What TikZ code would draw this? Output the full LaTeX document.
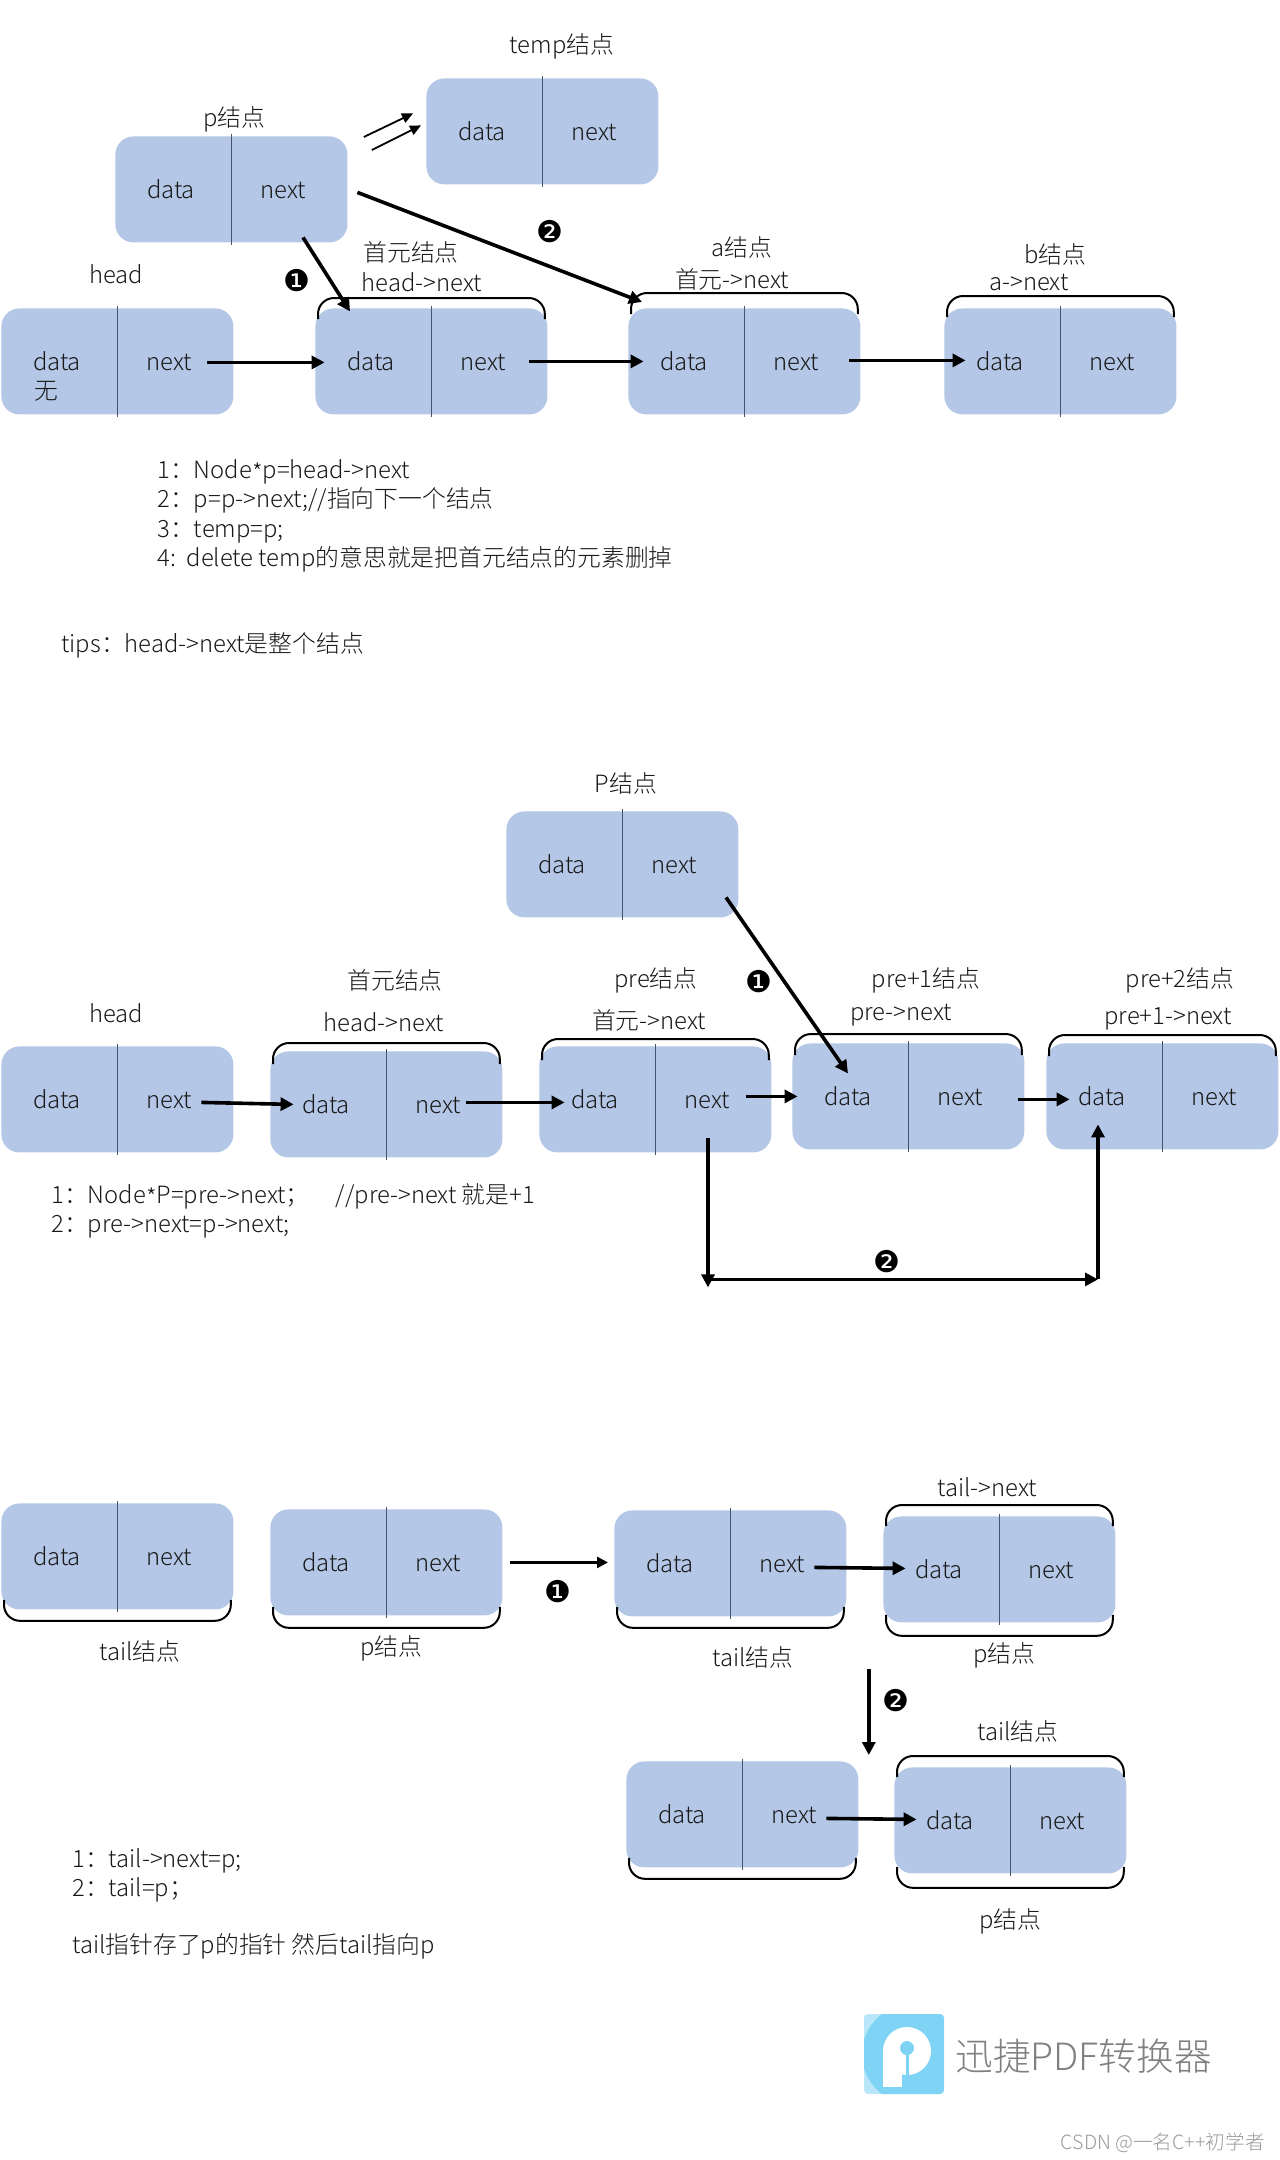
\documentclass[tikz,border=0pt]{standalone}
\usepackage{fontspec}
\usetikzlibrary{arrows.meta}
\setmainfont{Noto Sans CJK SC}[UprightFont=* Light]
\newfontfamily\circfont{DejaVu Sans}

\definecolor{boxblue}{HTML}{B4C7E7}
\definecolor{rulegray}{HTML}{44546A}
\definecolor{logolight}{HTML}{B9E6F8}
\definecolor{logodark}{HTML}{7FD3F5}

\newcommand{\lowstar}{\raisebox{-1.6pt}{*}}
% one list cell: name, left, top
\newcommand{\listbox}[3]{
	\node[cellbox] (#1) at (#2,#3) {};
	\draw[cellrule] ([yshift=1pt]#1.north) -- ([yshift=-1pt]#1.south);
	\node[celltext, minimum width=46pt] (#1-d) at ([shift={(56,55)}]#1.north west) {data};
	\node[celltext, minimum width=38pt] (#1-n) at ([shift={(168,55)}]#1.north west) {next};
}
% bracket over a box: name, offset of its line from the box top
\newcommand{\capover}[2]{
	\draw[capline] ([shift={(3,#2+21)}]#1.north west) |- ([shift={(-3,#2)}]#1.north east) -- ([shift={(-3,#2+21)}]#1.north east);
}
% bracket under a box: name, offset of its line from the box bottom
\newcommand{\capunder}[2]{
	\draw[capline] ([shift={(3,#2-21)}]#1.south west) |- ([shift={(-3,#2)}]#1.south east) -- ([shift={(-3,#2-21)}]#1.south east);
}

\begin{document}
\begin{tikzpicture}[x=0.5pt, y=-0.5pt,
	every node/.style={font=\fontsize{11.9}{14}\selectfont, text=black!90, yshift=-0.2pt},
	cellbox/.style={anchor=north west, fill=boxblue, rounded corners=9pt, minimum width=116pt, minimum height=53pt, inner sep=0pt, yshift=0.2pt},
	cellrule/.style={draw=rulegray, line width=0.6pt},
	celltext/.style={inner sep=0pt, text height=7pt, text depth=0pt},
	capline/.style={draw=black, line width=1pt, rounded corners=8pt},
	arr/.style={draw=black, line width=1.8pt, -{Triangle[length=6.5pt, width=6.5pt]}},
	midarr/.style={draw=black, line width=1.3pt, -{Triangle[length=5.5pt, width=5.5pt]}},
	thinarr/.style={draw=black, line width=0.9pt, -{Triangle[length=5.5pt, width=5pt]}},
	badge/.style={font=\circfont\fontsize{15}{16}\selectfont, text=black, inner sep=0pt},
	para/.style={anchor=west, align=left, inner sep=0pt}]
	\useasboundingbox (0,0) rectangle (1280,2160);

	% first list
	\begin{scope}
		\listbox{p}{115}{136}
		\listbox{temp}{426}{78}
		\listbox{head}{1}{308}
		\listbox{first}{315}{308}
		\listbox{a}{628}{308}
		\listbox{b}{944}{308}
		\capover{first}{-10}
		\capover{a}{-15}
		\capover{b}{-12}
		\node (wu) at (46,391) {无};
		\node (lbltemp) at (562,46) {temp结点};
		\node (lblp) at (234,119) {p结点};
		\node (lblhead) at (116,274) {head};
		\node (lblfirst) at (411,252) {首元结点};
		\node (lblheadnext) at (422,282) {head->next};
		\node (lbla) at (742,247) {a结点};
		\node (lblfirstnext) at (732,279) {首元->next};
		\node (lblb) at (1055,254) {b结点};
		\node (lblanext) at (1029,282) {a->next};
		\node[badge] (one) at (297,280) {❶};
		\node[badge] (two) at (550,231) {❷};
		\draw[thinarr] ([shift={(16,1)}]p.north east) -- ([shift={(-13,-18)}]temp.west);
		\draw[thinarr] ([shift={(24,14)}]p.north east) -- ([shift={(-5,-6)}]temp.west);
		\draw[arr] ([shift={(20,46)}]p-n.center) -- ([shift={(-21,-52)}]first-d.center);
		\draw[arr] ([shift={(36,1)}]p-n.east) -- ([shift={(14,-6)}]a.north west);
		\draw[arr] ([shift={(0,-1)}]head-n.east) -- ([shift={(0,-1)}]first-d.west);
		\draw[arr] ([shift={(8,-2)}]first-n.east) -- ([shift={(6,-2)}]a-d.west);
		\draw[arr] ([shift={(15,-3)}]a-n.east) -- ([shift={(12,-3)}]b-d.west);
		\node[para] (steps) at (157,515.5) {1：Node\lowstar p=head->next\\[0.6pt]2：p=p->next;//指向下一个结点\\[0.6pt]3：temp=p;\\[0.6pt]4:\ \ delete temp的意思就是把首元结点的元素删掉};
		\node[para] (tips) at (61,645) {tips：head->next是整个结点};
	\end{scope}

	% second list
	\begin{scope}
		\listbox{pp}{506}{811}
		\listbox{headb}{1}{1046}
		\listbox{firstb}{270}{1051}
		\listbox{pre}{539}{1046}
		\listbox{preone}{792}{1043}
		\listbox{pretwo}{1046}{1043}
		\capover{firstb}{-8}
		\capover{pre}{-7}
		\capover{preone}{-9}
		\capover{pretwo}{-8}
		\node (lblpp) at (626,783) {P结点};
		\node (lblheadb) at (116,1013) {head};
		\node (lblfirstb) at (395,980) {首元结点};
		\node (lblheadbnext) at (384,1022) {head->next};
		\node (lblpre) at (656,980) {pre结点};
		\node (lblfirstbnext) at (649,1020) {首元->next};
		\node (lblpreone) at (926,980) {pre+1结点};
		\node (lblprenext) at (901,1015) {pre->next};
		\node (lblpretwo) at (1180,980) {pre+2结点};
		\node (lblpreonenext) at (1168,1018) {pre+1->next};
		\node[badge] (oneb) at (759,981) {❶};
		\node[badge] (twob) at (887,1261) {❷};
		\coordinate (dropend) at (708,1287);
		\coordinate (turnl) at (708,1279);
		\coordinate (turnr) at (1098,1279);
		\draw[arr] ([shift={(52,31)}]pp-n.center) -- ([shift={(0,-25)}]preone-d.center);
		\draw[arr] ([shift={(-6,1)}]headb-n.east) -- ([shift={(14,-2)}]firstb-d.west);
		\draw[arr] ([shift={(-10,-4)}]firstb-n.east) -- ([shift={(16,1)}]pre-d.west);
		\draw[arr] ([shift={(1,-5)}]pre-n.east) -- ([shift={(-4,-2)}]preone-d.west);
		\draw[arr] ([shift={(20,1)}]preone-n.east) -- ([shift={(14,1)}]pretwo-d.west);
		\draw[arr] ([shift={(1,37)}]pre-n.center) -- (dropend);
		\draw[arr] (turnl) -- (turnr);
		\draw[arr] (turnr) -- ([shift={(-4,26)}]pretwo-d.center);
		\node[para] (stepsb) at (51,1210.5) {1：Node\lowstar P=pre->next；\ \ \ \ \ //pre->next 就是+1\\[0.6pt]2：pre->next=p->next;};
	\end{scope}

	% third list
	\begin{scope}
		\listbox{taila}{1}{1503}
		\listbox{pa}{270}{1509}
		\listbox{tailb}{614}{1510}
		\listbox{pb}{883}{1516}
		\listbox{tailc}{626}{1761}
		\listbox{pc}{894}{1767}
		\capunder{taila}{11}
		\capunder{pa}{12}
		\capunder{tailb}{11}
		\capunder{pb}{13}
		\capunder{tailc}{11}
		\capunder{pc}{14}
		\capover{pb}{-11}
		\capover{pc}{-11}
		\node (lbltaila) at (140,1651) {tail结点};
		\node (lblpa) at (391,1648) {p结点};
		\node (lbltailb) at (753,1657) {tail结点};
		\node (lblpb) at (1004,1655) {p结点};
		\node (lbltailnext) at (987,1487) {tail->next};
		\node (lbltailc) at (1018,1731) {tail结点};
		\node (lblpc) at (1010,1921) {p结点};
		\node[badge] (onec) at (558,1591) {❶};
		\node[badge] (twoc) at (896,1700) {❷};
		\draw[midarr] ([shift={(7,0)}]pa.east) -- ([shift={(-6,-1)}]tailb.west);
		\draw[arr] ([shift={(-6,2)}]tailb-n.east) -- ([shift={(13,-3)}]pb-d.west);
		\draw[arr] ([shift={(22,52)}]tailb.south east) -- ([shift={(10,-6)}]tailc.north east);
		\draw[arr] ([shift={(-6,2)}]tailc-n.east) -- ([shift={(13,-3)}]pc-d.west);
		\node[para] (stepsc) at (72,1875) {1：tail->next=p;\\[0.6pt]2：tail=p；};
		\node[para] (note) at (72,1946) {tail指针存了p的指针 然后tail指向p};
	\end{scope}

	% logo and mark
	\begin{scope}
		\clip[rounded corners=2pt] (864,2014) rectangle (944,2094);
		\fill[logolight] (864,2014) rectangle (944,2094);
		\fill[logodark] (912,2054) circle (50);
		\fill[white] (907,2051) circle (24);
		\fill[white] (883,2051) rectangle (902,2087);
		\fill[logodark] (907,2048) circle (7);
		\fill[logodark] (905.5,2048) rectangle (908.5,2075);
	\end{scope}
	\node[font=\fontsize{18.8}{20}\selectfont, text=black!50, anchor=west, inner sep=0pt] (brand) at (955,2056) {迅捷PDF转换器};
	\node[font=\fontsize{9.8}{12}\selectfont, text=black!40, anchor=east, inner sep=0pt] (mark) at (1265,2142) {CSDN @一名C++初学者};
\end{tikzpicture}
\end{document}
